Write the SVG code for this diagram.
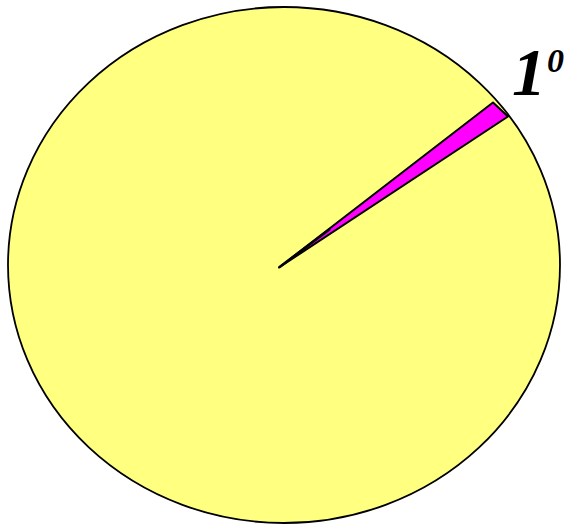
<svg xmlns="http://www.w3.org/2000/svg" width="572" height="525" viewBox="0 0 572 525">
<style>
.lbl{font-family:"Liberation Serif","Times New Roman",serif;font-weight:bold;font-style:italic;fill:#000}
</style>
<rect width="572" height="525" fill="#fff"/>
<g id="pie">
<ellipse cx="284" cy="265" rx="276" ry="258" fill="#FFFF80" stroke="#000" stroke-width="1.8"/>
</g>
<g id="wedge">
<path d="M279,267.5 L493,102.5 L508,116.5 Z" fill="#FF00FF" stroke="#000" stroke-width="2" stroke-linejoin="round"/>
<path d="M279,267.5 L330,229" stroke="#000" stroke-width="2.5"/>
</g>
<g id="label">
<text class="lbl" x="512" y="95" font-size="68">1</text>
<text class="lbl" x="547" y="72" font-size="34">0</text>
</g>
</svg>
